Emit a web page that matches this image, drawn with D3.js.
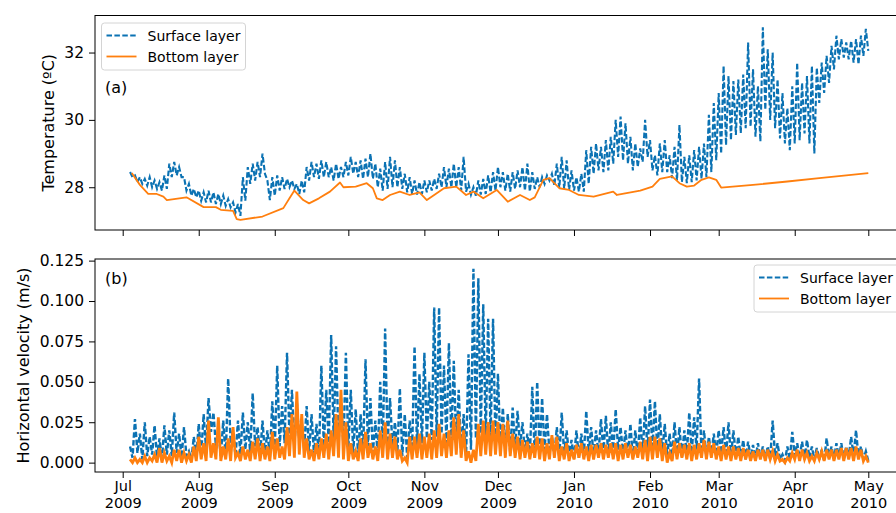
<!DOCTYPE html>
<html>
<head>
<meta charset="utf-8">
<script src="https://cdn.jsdelivr.net/npm/d3@7"></script>
<style>
  body { margin: 0; background: #fff; }
  svg { display: block; font-family: "DejaVu Sans", sans-serif; }
</style>
</head>
<body>
<svg id="chart" width="896" height="513"></svg>
<script>
// samples: first one on day 3 after Jul 1 2009, then every 2 days (hi), lows sit one day after each hi
const startDay = 3, stepDays = 2;

const tempSurfHi = [
  28.45,28.35,28.3,28.25,28.3,28.2,28.15,28.35,28.7,28.75,
  28.6,28.3,28.1,27.95,27.9,27.85,27.9,27.85,27.8,27.75,
  27.65,27.55,27.5,28.3,28.6,28.7,28.75,29.0,28.2,28.3,
  28.35,28.3,28.25,28.2,28.1,28.2,28.6,28.75,28.7,28.8,
  28.75,28.6,28.7,28.6,28.75,28.9,28.75,28.8,28.85,29.0,
  28.7,28.55,28.75,28.9,28.8,28.6,28.4,28.3,28.2,28.15,
  28.2,28.2,28.25,28.4,28.6,28.55,28.7,28.6,28.9,28.1,
  28.0,28.2,28.25,28.35,28.45,28.6,28.45,28.4,28.45,28.5,
  28.6,28.7,28.45,28.3,28.3,28.35,28.4,28.7,28.9,28.8,
  28.5,28.3,28.4,29.1,29.2,29.3,29.2,29.4,29.5,30.0,
  30.1,29.9,29.5,29.3,29.15,30.0,29.4,28.95,29.3,29.4,
  28.95,29.2,29.85,28.9,28.95,29.1,29.2,29.3,30.15,30.5,
  30.8,31.6,31.3,31.15,31.2,31.35,32.3,31.5,31.0,32.75,
  32.1,32.0,31.2,30.8,30.35,31.0,31.7,31.1,31.3,31.6,
  31.55,31.7,31.9,32.2,32.5,32.4,32.3,32.35,32.4,32.5,
  32.7
];
const tempSurfLo = [
  28.3,28.15,28.1,28.05,28.0,27.95,27.9,27.95,28.3,28.35,
  28.3,27.9,27.75,27.7,27.6,27.55,27.55,27.5,27.5,27.45,
  27.4,27.25,27.15,27.6,28.1,28.2,28.3,28.4,27.62,27.75,
  27.9,27.95,28.0,27.95,27.8,27.85,28.2,28.3,28.25,28.3,
  28.3,28.2,28.25,28.3,28.35,28.4,28.3,28.25,28.3,28.25,
  28.0,27.9,27.95,28.0,28.0,27.95,27.85,27.8,27.78,27.8,
  27.85,27.9,27.95,28.0,28.0,28.0,28.0,27.9,27.87,27.78,
  27.75,27.78,27.8,27.85,27.9,28.0,27.9,27.87,27.95,28.0,
  27.9,27.87,27.95,28.0,28.1,28.2,28.05,27.98,27.95,27.92,
  27.9,27.87,27.87,28.1,28.4,28.5,28.45,28.5,28.7,28.9,
  28.8,28.7,28.5,28.6,28.75,28.9,28.5,28.35,28.45,28.45,
  28.27,28.2,28.15,28.12,28.15,28.2,28.25,28.3,28.45,28.8,
  29.0,29.25,29.4,29.55,29.6,29.75,29.8,29.5,29.36,30.3,
  30.0,29.75,29.45,29.3,29.1,29.3,29.4,29.6,29.3,29.0,
  30.5,30.8,31.1,31.5,31.8,31.85,31.8,31.7,31.65,31.9,
  32.05
];

// bottom temperature is smooth: irregular days (since Jul 1 2009) and values
const tempBotDay = [3.7,7,10.4,13.9,16.6,18,26,33,38,40,45,46.5,48,57,65.5,68,70,73.6,76,80,
  84.5,88.6,90,95,99.5,102,103.6,106,109,113,117,121,124,127,131,136,140,143,147,152.5,
  157,162,166,168,171.5,174,178,182,186,192,200,201.5,211,216,219,224,227,230,233,236,
  239,242,244,257,271,284,304];
const tempBot = [28.42,28.07,27.8,27.8,27.72,27.62,27.7,27.41,27.41,27.33,27.3,27.05,27.03,27.13,27.38,27.67,27.9,27.62,27.52,27.67,
  27.87,28.14,28.0,28.02,28.12,27.97,27.67,27.62,27.77,27.87,27.77,27.85,27.62,27.77,27.97,28.02,27.77,27.87,27.67,27.92,
  27.57,27.77,27.62,27.7,28.22,28.27,27.97,27.92,27.77,27.72,27.87,27.77,27.9,28.02,28.25,28.32,28.12,28.02,28.05,28.22,
  28.29,28.22,27.99,28.07,28.17,28.27,28.42];

const velSurfHi = [
  0.010,0.027,0.018,0.025,0.016,0.023,0.015,0.023,0.020,0.031,
  0.018,0.022,0.007,0.016,0.024,0.030,0.040,0.031,0.020,0.026,
  0.052,0.020,0.026,0.031,0.025,0.043,0.022,0.026,0.020,0.038,
  0.060,0.035,0.068,0.045,0.037,0.025,0.035,0.030,0.024,0.060,
  0.045,0.079,0.072,0.040,0.068,0.045,0.033,0.030,0.064,0.040,
  0.026,0.050,0.083,0.040,0.025,0.046,0.030,0.026,0.072,0.055,
  0.068,0.050,0.096,0.096,0.060,0.074,0.063,0.045,0.030,0.067,
  0.120,0.114,0.098,0.089,0.089,0.055,0.034,0.030,0.034,0.032,
  0.025,0.018,0.047,0.050,0.040,0.030,0.016,0.022,0.031,0.020,
  0.014,0.020,0.018,0.032,0.022,0.020,0.027,0.029,0.025,0.033,
  0.022,0.020,0.024,0.020,0.028,0.035,0.039,0.038,0.030,0.024,
  0.018,0.025,0.022,0.020,0.031,0.028,0.052,0.020,0.016,0.018,
  0.020,0.022,0.025,0.020,0.016,0.014,0.013,0.011,0.012,0.010,
  0.010,0.026,0.012,0.005,0.010,0.019,0.012,0.013,0.014,0.010,
  0.009,0.008,0.015,0.010,0.012,0.012,0.010,0.016,0.020,0.010,
  0.007
];
const velSurfLo = [
  0.003,0.006,0.002,0.004,0.005,0.003,0.002,0.005,0.004,0.006,
  0.003,0.004,0.002,0.003,0.005,0.008,0.019,0.010,0.004,0.003,
  0.012,0.004,0.005,0.008,0.006,0.010,0.004,0.005,0.003,0.008,
  0.010,0.012,0.015,0.010,0.014,0.008,0.006,0.005,0.004,0.010,
  0.012,0.015,0.012,0.010,0.008,0.006,0.004,0.005,0.010,0.006,
  0.004,0.008,0.012,0.010,0.006,0.004,0.003,0.008,0.010,0.012,
  0.015,0.014,0.016,0.018,0.012,0.014,0.010,0.006,0.004,0.008,
  0.015,0.018,0.015,0.016,0.012,0.010,0.008,0.006,0.008,0.010,
  0.006,0.004,0.003,0.006,0.008,0.006,0.004,0.003,0.005,0.004,
  0.002,0.003,0.004,0.006,0.004,0.005,0.006,0.004,0.006,0.008,
  0.005,0.004,0.003,0.004,0.005,0.006,0.008,0.007,0.005,0.004,
  0.002,0.004,0.003,0.005,0.006,0.008,0.004,0.003,0.004,0.005,
  0.006,0.004,0.003,0.004,0.003,0.002,0.003,0.002,0.003,0.002,
  0.002,0.004,0.002,0.001,0.002,0.004,0.003,0.002,0.003,0.002,
  0.002,0.001,0.003,0.002,0.003,0.002,0.003,0.004,0.003,0.002,
  0.001
];
const velBotHi = [
  0.002,0.003,0.002,0.004,0.003,0.005,0.009,0.006,0.004,0.008,
  0.008,0.006,0.005,0.010,0.016,0.012,0.026,0.012,0.028,0.010,
  0.015,0.022,0.006,0.010,0.008,0.013,0.015,0.012,0.010,0.019,
  0.015,0.010,0.022,0.030,0.044,0.030,0.015,0.008,0.012,0.015,
  0.018,0.020,0.030,0.045,0.025,0.012,0.007,0.015,0.019,0.012,
  0.010,0.020,0.025,0.018,0.016,0.008,0.003,0.016,0.016,0.018,
  0.016,0.018,0.020,0.024,0.018,0.020,0.028,0.030,0.020,0.007,
  0.008,0.024,0.026,0.025,0.026,0.025,0.024,0.026,0.018,0.016,
  0.014,0.013,0.012,0.016,0.015,0.012,0.017,0.016,0.010,0.012,
  0.008,0.011,0.012,0.010,0.011,0.011,0.012,0.011,0.012,0.012,
  0.011,0.012,0.011,0.010,0.013,0.014,0.016,0.016,0.015,0.012,
  0.006,0.013,0.012,0.011,0.012,0.011,0.012,0.014,0.013,0.012,
  0.010,0.011,0.010,0.010,0.009,0.009,0.008,0.007,0.008,0.008,
  0.008,0.007,0.005,0.002,0.003,0.006,0.008,0.008,0.006,0.004,
  0.006,0.007,0.008,0.008,0.008,0.009,0.009,0.009,0.010,0.008,
  0.004
];
const velBotLo = [
  0,0,0,0,0.001,0,0,0.001,0,0.001,
  0,0.001,0,0.001,0.002,0.001,0.003,0.002,0.001,0.002,
  0.001,0.003,0.001,0.002,0.001,0.002,0.001,0.002,0.001,0.002,
  0.003,0.002,0.004,0.003,0.005,0.003,0.002,0.001,0.002,0.003,
  0.002,0.004,0.003,0.002,0.001,0.002,0.001,0.002,0.003,0.002,
  0.001,0.003,0.002,0.003,0.002,0.001,0,0.002,0.003,0.002,
  0.003,0.002,0.003,0.004,0.003,0.004,0.005,0.003,0.001,0,
  0.001,0.004,0.005,0.004,0.005,0.004,0.003,0.004,0.003,0.002,
  0.003,0.002,0.003,0.002,0.001,0.002,0.003,0.001,0.002,0.001,
  0.002,0.003,0.002,0.001,0.002,0.003,0.002,0.003,0.002,0.001,
  0.002,0.003,0.002,0.003,0.002,0.001,0.002,0.003,0.001,0,
  0.001,0.002,0.003,0.002,0.001,0.002,0.003,0.002,0.003,0.002,
  0.001,0.002,0.001,0.002,0.001,0.002,0.001,0.001,0.002,0.001,
  0.002,0.001,0.001,0,0.001,0.002,0.001,0.002,0.001,0.001,
  0.002,0.001,0.002,0.001,0.002,0.001,0.002,0.001,0.002,0.001,
  0
];

const monthTicks = ["2009-07-01","2009-08-01","2009-09-01","2009-10-01","2009-11-01","2009-12-01",
                    "2010-01-01","2010-02-01","2010-03-01","2010-04-01","2010-05-01"];
const tempTicks = [28, 30, 32];
const velTicks = [0, 0.025, 0.05, 0.075, 0.1, 0.125];

const blue = "#0b72b3", orange = "#ff7f0e";
const t0 = Date.UTC(2009, 6, 1);
const dayToDate = d => new Date(t0 + d * 86400000);

// hi/lo pairs -> one zigzag series
function zigzag(hi, lo) {
  const pts = [];
  hi.forEach((h, i) => {
    const d = startDay + stepDays * i;
    pts.push({ date: dayToDate(d), v: h });
    pts.push({ date: dayToDate(d + 1), v: lo[i] });
  });
  return pts;
}

const svg = d3.select("#chart");
const left = 95, right = 899;
const panels = {
  top: { y0: 15.5, y1: 230 },
  bot: { y0: 259, y1: 472 }
};

const x = d3.scaleUtc()
  .domain([new Date(t0), new Date(Date.UTC(2010, 4, 1))])
  .range([122.7, 868.3]);

const yT = d3.scaleLinear().domain([26.73, 33.1]).range([panels.top.y1, panels.top.y0]);
const yV = d3.scaleLinear().domain([-0.0058, 0.126]).range([panels.bot.y1, panels.bot.y0]);

const defs = svg.append("defs");
Object.entries(panels).forEach(([k, p]) => {
  defs.append("clipPath").attr("id", "clip-" + k)
    .append("rect").attr("x", left).attr("y", p.y0).attr("width", right - left).attr("height", p.y1 - p.y0);
});

const monthDates = monthTicks.map(s => new Date(s + "T00:00:00Z"));

function styleAxis(g) {
  g.select(".domain").remove();
  g.selectAll(".tick line").attr("stroke", "#000").attr("stroke-width", 1);
  g.selectAll(".tick text").attr("fill", "#000").attr("font-size", 15.5)
    .attr("font-family", "DejaVu Sans, sans-serif");
}

// ---- top panel: temperature ----
svg.append("g").attr("transform", `translate(0,${panels.top.y1})`)
  .call(d3.axisBottom(x).tickValues(monthDates).tickFormat("").tickSize(6))
  .call(styleAxis);
svg.append("g").attr("transform", `translate(${left},0)`)
  .call(d3.axisLeft(yT).tickValues(tempTicks).tickFormat(d3.format("d")).tickSize(6).tickPadding(5))
  .call(styleAxis);

const topG = svg.append("g").attr("clip-path", "url(#clip-top)");
const lineT = d3.line().x(d => x(d.date)).y(d => yT(d.v));
topG.append("path").datum(zigzag(tempSurfHi, tempSurfLo))
  .attr("d", lineT).attr("fill", "none").attr("stroke", blue)
  .attr("stroke-width", 2.1).attr("stroke-dasharray", "5.5,2.4");
topG.append("path").datum(tempBotDay.map((d, i) => ({ date: dayToDate(d), v: tempBot[i] })))
  .attr("d", lineT).attr("fill", "none").attr("stroke", orange)
  .attr("stroke-width", 1.8).attr("stroke-linejoin", "round");

// ---- bottom panel: velocity ----
const fmtMonth = d3.utcFormat("%b"), fmtYear = d3.utcFormat("%Y");
svg.append("g").attr("transform", `translate(0,${panels.bot.y1})`)
  .call(d3.axisBottom(x).tickValues(monthDates).tickSize(6).tickPadding(3))
  .call(styleAxis)
  .call(g => g.selectAll(".tick text").attr("font-size", 14.5).each(function(d) {
    const t = d3.select(this).text(null);
    t.append("tspan").attr("x", 0).text(fmtMonth(d));
    t.append("tspan").attr("x", 0).attr("dy", "1.18em").text(fmtYear(d));
  }));
svg.append("g").attr("transform", `translate(${left},0)`)
  .call(d3.axisLeft(yV).tickValues(velTicks).tickFormat(d3.format(".3f")).tickSize(6).tickPadding(5))
  .call(styleAxis);

const botG = svg.append("g").attr("clip-path", "url(#clip-bot)");
const lineV = d3.line().x(d => x(d.date)).y(d => yV(d.v));
botG.append("path").datum(zigzag(velSurfHi, velSurfLo))
  .attr("d", lineV).attr("fill", "none").attr("stroke", blue)
  .attr("stroke-width", 2.4).attr("stroke-dasharray", "5.5,2.4");
botG.append("path").datum(zigzag(velBotHi, velBotLo))
  .attr("d", lineV).attr("fill", "none").attr("stroke", orange)
  .attr("stroke-width", 2.8);

// frames
Object.values(panels).forEach(p => {
  svg.append("rect").attr("x", left).attr("y", p.y0)
    .attr("width", right - left).attr("height", p.y1 - p.y0)
    .attr("fill", "none").attr("stroke", "#000").attr("stroke-width", 1);
});

// axis titles
svg.append("text").attr("transform", `translate(54,${(panels.top.y0 + panels.top.y1) / 2}) rotate(-90)`)
  .attr("text-anchor", "middle").attr("font-size", 16).text("Temperature (ºC)");
svg.append("text").attr("transform", `translate(29,${(panels.bot.y0 + panels.bot.y1) / 2}) rotate(-90)`)
  .attr("text-anchor", "middle").attr("font-size", 16).text("Horizontal velocity (m/s)");

// panel tags
svg.append("text").attr("x", 105).attr("y", 93).attr("font-size", 16).text("(a)");
svg.append("text").attr("x", 105).attr("y", 284).attr("font-size", 16).text("(b)");

// legends
function legend(x0, y0, w) {
  const g = svg.append("g").attr("transform", `translate(${x0},${y0})`);
  g.append("rect").attr("width", w).attr("height", 47).attr("rx", 3)
    .attr("fill", "#fff").attr("fill-opacity", 0.85).attr("stroke", "#d4d4d4");
  const items = [
    { label: "Surface layer", color: blue, dash: "5.5,2.4" },
    { label: "Bottom layer", color: orange, dash: null }
  ];
  items.forEach((it, i) => {
    const yy = 12.5 + i * 21;
    g.append("line").attr("x1", 5).attr("x2", 35).attr("y1", yy).attr("y2", yy)
      .attr("stroke", it.color).attr("stroke-width", 1.8)
      .attr("stroke-dasharray", it.dash);
    g.append("text").attr("x", 46).attr("y", yy + 5).attr("font-size", 14).text(it.label);
  });
}
legend(101.5, 23, 144);
legend(754, 265, 150);
</script>
</body>
</html>
